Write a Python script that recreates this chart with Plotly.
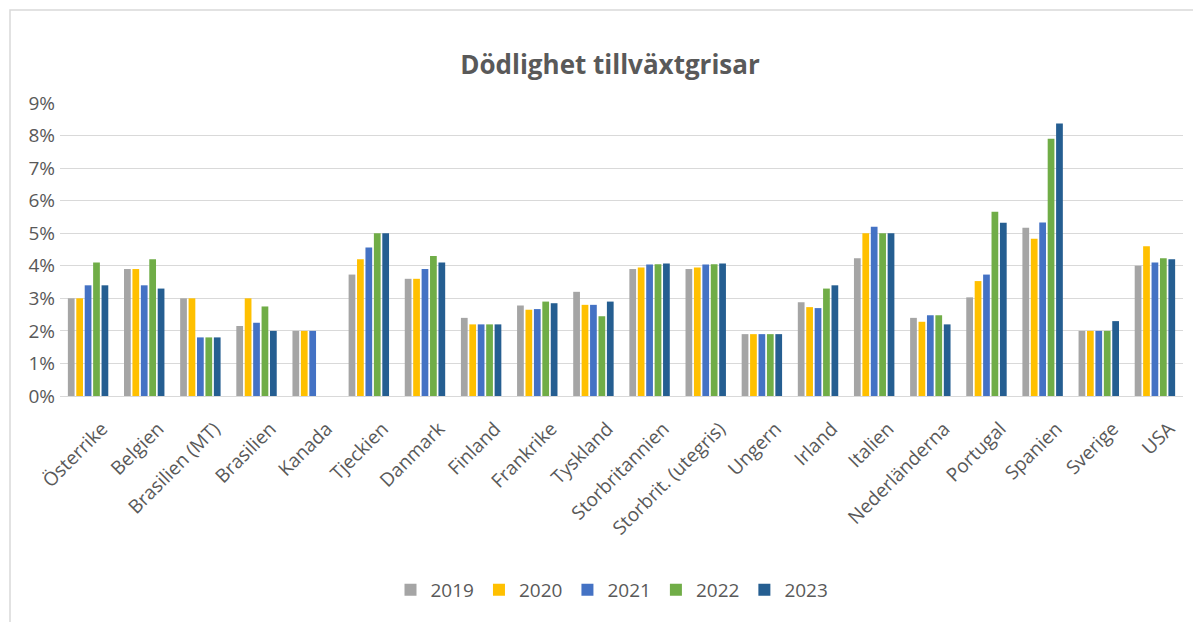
import plotly.graph_objects as go

categories = ["Österrike", "Belgien", "Brasilien (MT)", "Brasilien", "Kanada", "Tjeckien",
              "Danmark", "Finland", "Frankrike", "Tyskland", "Storbritannien",
              "Storbrit. (utegris)", "Ungern", "Irland", "Italien", "Nederländerna",
              "Portugal", "Spanien", "Sverige", "USA"]

v2019 = [3.0, 3.9, 3.0, 2.15, 2.0, 3.73, 3.6, 2.4, 2.78, 3.2, 3.9, 3.9, 1.9, 2.88, 4.23, 2.4, 3.03, 5.17, 2.0, 4.0]
v2020 = [3.0, 3.9, 3.0, 3.0, 2.0, 4.2, 3.6, 2.2, 2.65, 2.8, 3.95, 3.95, 1.9, 2.73, 5.0, 2.28, 3.53, 4.83, 2.0, 4.6]
v2021 = [3.4, 3.4, 1.8, 2.25, 2.0, 4.56, 3.9, 2.2, 2.67, 2.8, 4.04, 4.04, 1.9, 2.7, 5.2, 2.48, 3.73, 5.33, 2.0, 4.1]
v2022 = [4.1, 4.2, 1.8, 2.75, None, 5.0, 4.3, 2.2, 2.9, 2.45, 4.05, 4.05, 1.9, 3.3, 5.0, 2.48, 5.66, 7.9, 2.0, 4.23]
v2023 = [3.4, 3.3, 1.8, 2.0, None, 5.0, 4.1, 2.2, 2.85, 2.9, 4.07, 4.07, 1.9, 3.4, 5.0, 2.2, 5.32, 8.37, 2.3, 4.2]

years = ["2019", "2020", "2021", "2022", "2023"]
series = [v2019, v2020, v2021, v2022, v2023]
colors = ["#A5A5A5", "#FFC000", "#4472C4", "#70AD47", "#255E91"]

y_ticks = [0, 1, 2, 3, 4, 5, 6, 7, 8, 9]
y_tick_labels = [f"{t}%" for t in y_ticks]

FONT = "Open Sans"
GRAY = "#595959"

fig = go.Figure()
for name, vals, col in zip(years, series, colors):
    fig.add_trace(go.Bar(x=categories, y=vals, name=name,
                         marker=dict(color=col, line=dict(width=0))))

# invisible helper trace carrying the (slightly offset) category labels
fig.add_trace(go.Scatter(x=categories, y=[0] * len(categories), xaxis="x2", mode="markers",
                         marker=dict(opacity=0), showlegend=False, hoverinfo="skip"))

# page has an 8px body margin, so figure coords = page coords - 8
OFF = 8
W, H = 1201 - OFF, 622 - OFF
L, R, T = 60 - OFF, 18, 103 - OFF
B = H - (396 - OFF)
pw, ph = W - L - R, H - T - B

def px2paper_x(px):
    return (px - OFF - L) / pw

def px2paper_y(py):
    return (H - B - (py - OFF)) / ph

n = len(categories)
shift = 14 / (pw / n)  # label offset in category units

fig.update_layout(
    width=W, height=H,
    margin=dict(l=L, r=R, t=T, b=B, autoexpand=False),
    paper_bgcolor="white", plot_bgcolor="white",
    barmode="group", bargap=0.25, bargroupgap=0.2,
    title=dict(text="<b>Dödlighet tillväxtgrisar</b>", x=px2paper_x(610), xref="paper", xanchor="center",
               y=1 - (65 - OFF) / H, yanchor="middle",
               font=dict(family=FONT, size=26, color=GRAY)),
    font=dict(family=FONT, color=GRAY),
    xaxis=dict(showticklabels=False, showline=False, ticks="", showgrid=False,
               range=[-0.5, n - 0.5]),
    xaxis2=dict(overlaying="x", side="bottom", type="category", categoryarray=categories,
                categoryorder="array", range=[-0.5 - shift, n - 0.5 - shift],
                tickangle=-45, tickfont=dict(family=FONT, size=19, color=GRAY),
                showline=False, ticks="", showgrid=False, zeroline=False, ticklabelstandoff=17),
    yaxis=dict(range=[0, 9], tickvals=y_ticks, ticktext=y_tick_labels,
               tickfont=dict(family=FONT, size=19, color=GRAY),
               showgrid=True, gridcolor="#D9D9D9", gridwidth=1,
               zeroline=True, zerolinecolor="#D9D9D9", zerolinewidth=1,
               showline=False, ticks="", ticklabelstandoff=4),
    legend=dict(orientation="h", x=px2paper_x(612), xanchor="center", y=px2paper_y(590), yanchor="middle",
                font=dict(family=FONT, size=19, color=GRAY), itemwidth=30,
                traceorder="normal"),
    showlegend=True,
)

fig.add_shape(type="rect", xref="paper", yref="paper",
              x0=px2paper_x(10), x1=px2paper_x(1240), y0=px2paper_y(660), y1=px2paper_y(10),
              line=dict(color="#D9D9D9", width=1.5), fillcolor="rgba(0,0,0,0)", layer="below")

fig.write_html("out.html")
